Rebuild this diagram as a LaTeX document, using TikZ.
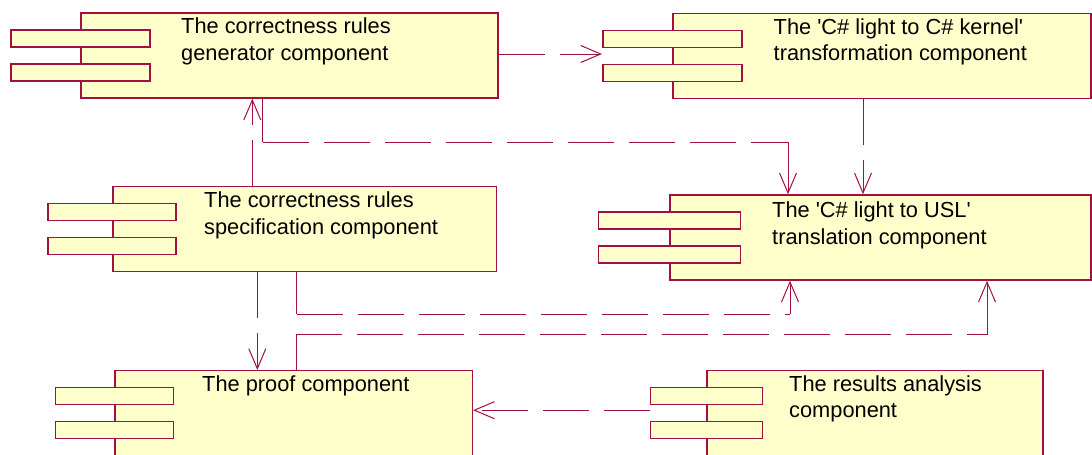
\documentclass[tikz,border=0pt]{standalone}
\definecolor{roseRed}{RGB}{160,16,64}
\definecolor{roseFill}{RGB}{255,255,204}
\usepackage{fontspec}
\setmainfont{Liberation Sans}
\usepackage{tikz}
\usetikzlibrary{arrows.meta,calc}

\begin{document}
\begin{tikzpicture}[x=1pt, y=-1pt,
    comp/.style={rectangle, draw=roseRed, fill=roseFill, line width=1.5pt,
                 minimum height=85pt, inner sep=0pt},
    tab/.style={rectangle, draw=roseRed, fill=roseFill, line width=1.5pt,
                minimum height=17pt, inner sep=0pt},
    lbl/.style={anchor=base west, align=left, inner sep=0pt,
                font=\fontsize{21.8}{26.5}\selectfont},
    leg/.style={draw=roseRed, line width=1pt},
    dashleg/.style={leg, dash pattern=on 46pt off 15pt},
    tip/.style={-{Straight Barb[length=20pt, width=17pt]}},
    dep/.style={dashleg, tip}
  ]
  \clip (0,0) rectangle (1092,455);

  % component bodies
  \node[comp, minimum width=417pt]   (gen)   at (289.5,55.5)  {};
  \node[comp, minimum width=418pt]   (kern)  at (882,55.8)    {};
  \node[comp, minimum width=383.7pt] (spec)  at (304.8,229.2) {};
  \node[comp, minimum width=421pt]   (usl)   at (880.5,237.5) {};
  \node[comp, minimum width=357.3pt, minimum height=87pt] (proof) at (293.7,414.2) {};
  \node[comp, minimum width=336pt, minimum height=87pt]   (res)   at (875,414.2)   {};

  % the two small tabs on the left side of each body
  \node[tab, minimum width=139pt] (gen-t1)   at ($(gen.west)+(0,-17)$)   {};
  \node[tab, minimum width=139pt] (gen-t2)   at ($(gen.west)+(0,17)$)    {};
  \node[tab, minimum width=139pt] (kern-t1)  at ($(kern.west)+(0,-17)$)  {};
  \node[tab, minimum width=139pt] (kern-t2)  at ($(kern.west)+(0,17)$)   {};
  \node[tab, minimum width=128pt] (spec-t1)  at ($(spec.west)+(0,-17)$)  {};
  \node[tab, minimum width=128pt] (spec-t2)  at ($(spec.west)+(0,17)$)   {};
  \node[tab, minimum width=142pt] (usl-t1)   at ($(usl.west)+(0,-17)$)   {};
  \node[tab, minimum width=142pt] (usl-t2)   at ($(usl.west)+(0,17)$)    {};
  \node[tab, minimum width=118pt] (proof-t1) at ($(proof.west)+(0,-18)$) {};
  \node[tab, minimum width=118pt] (proof-t2) at ($(proof.west)+(0,16)$)  {};
  \node[tab, minimum width=112pt] (res-t1)   at ($(res.west)+(0,-18)$)   {};
  \node[tab, minimum width=112pt] (res-t2)   at ($(res.west)+(0,16)$)    {};

  % names (base = last line)
  \node[lbl] (gen-l)   at (181,60)    {The correctness rules\\generator component};
  \node[lbl] (kern-l)  at (773.5,60.5) {The \textquotesingle C\# light to C\# kernel\textquotesingle\\transformation component};
  \node[lbl] (spec-l)  at (204,234.3) {The correctness rules\\specification component};
  \node[lbl] (usl-l)   at (772,244.3) {The \textquotesingle C\# light to USL\textquotesingle\\translation component};
  \node[lbl] (proof-l) at (202,391.7) {The proof component};
  \node[lbl] (res-l)   at (789,417.5) {The results analysis\\component};

  % straight dependencies
  \draw[dep] ([yshift=1.5pt]gen.east) -- ([yshift=1.5pt]gen.east -| kern-t1.west);
  \draw[dep] ([xshift=-19pt]kern.south) -- ([xshift=-19pt]kern.south |- usl.north);
  \draw[dep] ([xshift=-52.5pt]spec.north) -- ([xshift=-52.5pt]spec.north |- gen.south);
  \draw[dep] ([xshift=-47.5pt]spec.south) -- ([xshift=-47.5pt]spec.south |- proof.north);
  \draw[dep] ([yshift=4pt]res.west -| res-t1.west) -- ([yshift=4pt]res.west -| proof.east);

  % bent ones: solid legs at both ends, dashes only along the middle
  \coordinate (usl-in1) at ([xshift=-92.5pt]usl.north);
  \coordinate (usl-in2) at ([xshift=-90.5pt]usl.south);
  \coordinate (usl-in3) at ([xshift=106.5pt]usl.south);

  \draw[leg] ([xshift=-27pt]gen.south) -- ++(0,43.5) coordinate (gen-b1);
  \draw[dashleg] (gen-b1) -- (gen-b1 -| usl-in1) coordinate (gen-b2);
  \draw[leg, tip] (gen-b2) -- (usl-in1);

  \draw[leg] ([xshift=-8pt]spec.south) -- ++(0,42) coordinate (spec-b1);
  \draw[dashleg] (spec-b1) -- (spec-b1 -| usl-in2) coordinate (spec-b2);
  \draw[leg, tip] (spec-b2) -- (usl-in2);

  \draw[leg] ([xshift=2.6pt]proof.north) -- ++(0,-35) coordinate (proof-b1);
  \draw[dashleg] (proof-b1) -- (proof-b1 -| usl-in3) coordinate (proof-b2);
  \draw[leg, tip] (proof-b2) -- (usl-in3);
\end{tikzpicture}
\end{document}
